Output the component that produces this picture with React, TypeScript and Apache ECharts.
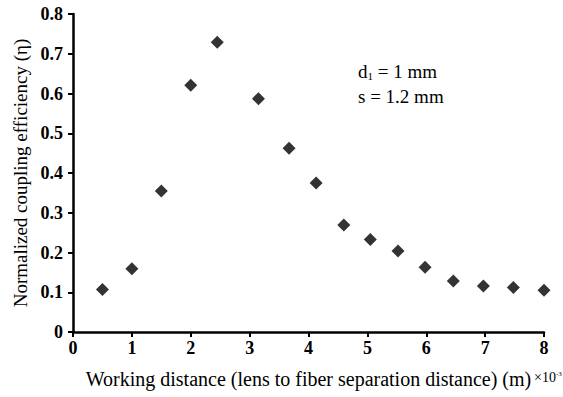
import React, { useEffect, useRef } from "react";
import * as echarts from "echarts";

const xValues = [0.5, 1.0, 1.5, 2.0, 2.45, 3.15, 3.67, 4.13, 4.6, 5.05, 5.52, 5.98, 6.46, 6.97, 7.48, 8.0];
const yValues = [0.107, 0.159, 0.355, 0.621, 0.729, 0.587, 0.462, 0.375, 0.269, 0.233, 0.204, 0.163, 0.128, 0.116, 0.112, 0.105];
const annotationLines = ["d{sub|1} = 1 mm", "s = 1.2 mm"];

const FONT = "Liberation Serif";

export default function App() {
  const ref = useRef<HTMLDivElement>(null);
  useEffect(() => {
    if (!ref.current) return;
    const chart = echarts.init(ref.current, null, { renderer: "svg" });
    const data = xValues.map((x, i) => [x, yValues[i]]);
    chart.setOption({
      animation: false,
      backgroundColor: "#fff",
      grid: { left: 73, right: 19, top: 14, bottom: 65, containLabel: false },
      xAxis: {
        type: "value",
        min: 0,
        max: 8,
        interval: 1,
        name: "Working distance (lens to fiber separation distance) (m)",
        nameLocation: "middle",
        nameGap: 37,
        nameTextStyle: { fontFamily: FONT, fontSize: 20, color: "#000" },
        axisLine: { show: true, lineStyle: { color: "#000", width: 2.5 } },
        axisTick: { show: true, length: 5, lineStyle: { color: "#000", width: 2 } },
        axisLabel: { fontFamily: FONT, fontSize: 18, fontWeight: "bold", color: "#000", margin: 7 },
        splitLine: { show: false },
      },
      yAxis: {
        type: "value",
        min: 0,
        max: 0.8,
        interval: 0.1,
        name: "Normalized coupling efficiency (η)",
        nameLocation: "middle",
        nameGap: 43,
        nameTextStyle: { fontFamily: FONT, fontSize: 19, color: "#000" },
        axisLine: { show: true, lineStyle: { color: "#000", width: 2.5 } },
        axisTick: { show: true, length: 5, lineStyle: { color: "#000", width: 2 } },
        axisLabel: {
          fontFamily: FONT,
          fontSize: 18,
          fontWeight: "bold",
          color: "#000",
          margin: 10,
          formatter: (v: number) => (v === 0 ? "0" : v.toFixed(1)),
        },
        splitLine: { show: false },
      },
      series: [
        {
          type: "scatter",
          data,
          symbol: "diamond",
          symbolSize: [13, 13],
          itemStyle: { color: "#000" },
        },
      ],
      graphic: [
        {
          type: "text",
          left: 534,
          top: 370,
          style: {
            text: "×10{sup|-3}",
            font: `14px ${FONT}`,
            fill: "#000",
            rich: { sup: { fontSize: 7, fontFamily: FONT, verticalAlign: "top", padding: [0, 0, 7, 0] } },
          },
        },
        {
          type: "text",
          left: 358,
          top: 59,
          style: {
            text: annotationLines.join("\n"),
            font: `19px ${FONT}`,
            fill: "#000",
            lineHeight: 25,
            rich: { sub: { fontSize: 11, fontFamily: FONT, padding: [9, 0, 0, 0] } },
          },
        },
      ],
    });
    return () => chart.dispose();
  }, []);
  return <div ref={ref} style={{ width: 563, height: 397, position: "absolute", left: 0, top: 0 }} />;
}
